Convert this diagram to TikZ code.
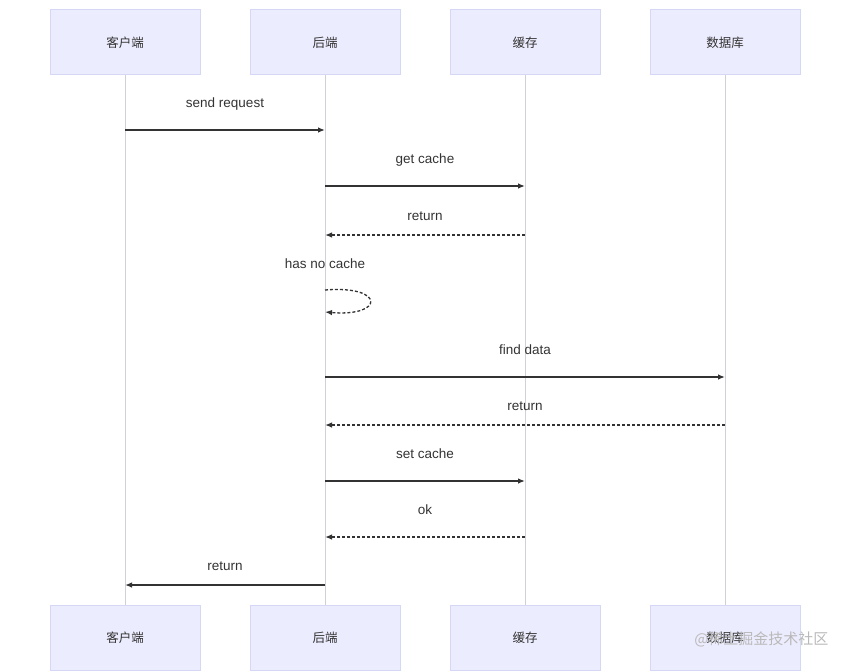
\documentclass[tikz,border=0pt]{standalone}
\usepackage{fontspec}
\setmainfont{Liberation Sans}
\newfontfamily\cjk{Noto Sans CJK SC}
\usetikzlibrary{arrows.meta}
\definecolor{boxfill}{HTML}{ECECFF}
\definecolor{boxline}{HTML}{D6D6F5}
\definecolor{txt}{HTML}{333333}
\definecolor{life}{HTML}{D0D0D8}
\begin{document}
\begin{tikzpicture}[x=1pt,y=-1pt,
  actor/.style={draw=boxline,fill=boxfill,line width=1pt,minimum width=150pt,minimum height=65pt,inner sep=0pt,font=\cjk\fontsize{12.5}{15}\selectfont,text=txt},
  lbl/.style={font=\fontsize{13.5}{16}\selectfont,text=txt},
  msg/.style={draw=txt,line width=1.3pt,-{Latex[length=7pt,width=5.5pt]}},
  ret/.style={msg,dash pattern=on 3pt off 2pt}]
\useasboundingbox (0,0) rectangle (850,671);
\foreach \n/\x/\t in {c/125/客户端,b/325/后端,h/525/缓存,d/725/数据库}{
  \draw[life,line width=1pt] (\x,75) -- (\x,605);
  \node[actor] (\n1) at (\x,42.5) {\t};
  \node[actor] (\n2) at (\x,637.5) {\t};
}
\foreach \n/\x in {c/125,b/325,h/525,d/725}{
  \foreach \y in {130,186,235,290,312,377,425,481,537,585}{
    \coordinate (\n\y) at (\x,\y);
  }
}
\node[lbl] (l1) at (225,104) {send request};
\draw[msg] (c130) -- (b130);
\node[lbl] (l2) at (425,160) {get cache};
\draw[msg] (b186) -- (h186);
\node[lbl] (l3) at (425,216) {return};
\draw[ret] (h235) -- (b235);
\node[lbl] (l4) at (325,264) {has no cache};
\draw[ret] (b290) .. controls (385,285) and (385,317) .. (b312);
\node[lbl] (l5) at (525,350) {find data};
\draw[msg] (b377) -- (d377);
\node[lbl] (l6) at (525,406) {return};
\draw[ret] (d425) -- (b425);
\node[lbl] (l7) at (425,454) {set cache};
\draw[msg] (b481) -- (h481);
\node[lbl] (l8) at (425,510) {ok};
\draw[ret] (h537) -- (b537);
\node[lbl] (l9) at (225,566) {return};
\draw[msg] (b585) -- (c585);
\node[font=\cjk\fontsize{15}{17}\selectfont,text=gray!55,anchor=east] (wm) at (832,639) {@稀土掘金技术社区};
\end{tikzpicture}
\end{document}
